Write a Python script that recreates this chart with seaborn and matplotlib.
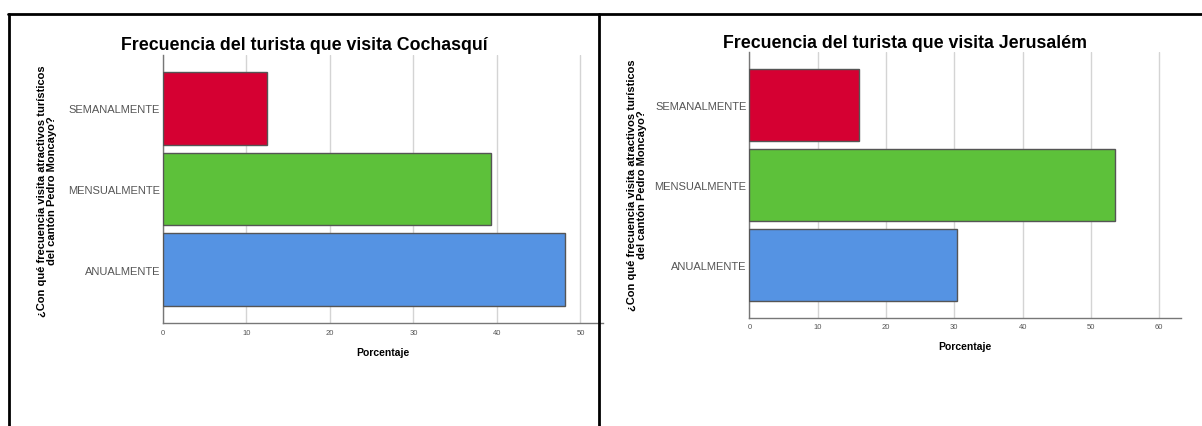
import matplotlib
matplotlib.use("Agg")
import matplotlib.pyplot as plt
from matplotlib.lines import Line2D
import pandas as pd
import seaborn as sns

# Data
categorias = ["SEMANALMENTE", "MENSUALMENTE", "ANUALMENTE"]
cochasqui = [12.5, 39.3, 48.2]
jerusalem = [16.1, 53.5, 30.4]
colores = ["#D50032", "#5DC13A", "#5593E3"]

titulos = ["Frecuencia del turista que visita Cochasquí",
           "Frecuencia del turista que visita Jerusalém"]
ylabel = "¿Con qué frecuencia visita atractivos turísticos\ndel cantón Pedro Moncayo?"
xlabel = "Porcentaje"

sns.set_style("white")
plt.rcParams["font.family"] = ["Liberation Sans", "DejaVu Sans"]
plt.rcParams["text.color"] = "black"
plt.rcParams["axes.labelcolor"] = "black"

W, H = 1202, 427
fig = plt.figure(figsize=(W / 100, H / 100), dpi=100)


def fx(px):
    return px / W


def fy(py):
    return 1 - py / H


# axes boxes in pixels: left, top, right, bottom
cajas = [(163, 56, 603, 324), (749.4, 52.7, 1181, 318.7)]
xmax = [52.7, 63.2]
xticks = [range(0, 51, 10), range(0, 61, 10)]
datos = [cochasqui, jerusalem]
titulo_pos = [(304, 45), (905, 44)]
ylabel_pos = [(47, 191), (637, 185)]

for i in range(2):
    l, t, r, b = cajas[i]
    ax = fig.add_axes([fx(l), fy(b), fx(r) - fx(l), (b - t) / H])
    df = pd.DataFrame({"cat": categorias, "pct": datos[i]})
    sns.barplot(data=df, x="pct", y="cat", hue="cat", palette=colores,
                saturation=1, legend=False, orient="h", width=0.9,
                edgecolor="#555555", linewidth=1, ax=ax, zorder=3)
    ax.set_xlim(0, xmax[i])
    ax.set_ylim(2.66, -0.66)
    ax.set_xticks(list(xticks[i]))
    ax.grid(axis="x", color="#d4d4d4", linewidth=1, zorder=0)
    ax.set_axisbelow(True)
    for s in ["top", "right"]:
        ax.spines[s].set_visible(False)
    for s in ["left", "bottom"]:
        ax.spines[s].set_color("#777777")
        ax.spines[s].set_linewidth(1)
    ax.tick_params(axis="both", length=0)
    ax.tick_params(axis="x", labelsize=5.5, labelcolor="#555555", pad=4)
    ax.tick_params(axis="y", labelsize=8, labelcolor="#555555", pad=2)
    for lab in ax.get_yticklabels():
        lab.set_family(["Liberation Sans Narrow", "Liberation Sans"])
    ax.set_ylabel("")
    ax.set_xlabel(xlabel, fontsize=7.5, fontweight="bold", labelpad=8)

    tx, ty = titulo_pos[i]
    fig.text(fx(tx), fy(ty), titulos[i], ha="center", va="center",
             fontsize=12.8, fontweight="bold")
    lx, ly = ylabel_pos[i]
    fig.text(fx(lx), fy(ly), ylabel, ha="center", va="center", rotation=90,
             fontsize=8, fontweight="bold", linespacing=1.0, multialignment="center")

# black frame lines
fig.add_artist(Line2D([fx(8), 1], [fy(15), fy(15)], color="black", lw=2))
fig.add_artist(Line2D([fx(9), fx(9)], [0, fy(15)], color="black", lw=2))
fig.add_artist(Line2D([fx(599), fx(599)], [0, fy(15)], color="black", lw=2))

fig.savefig("out.png", dpi=100)
